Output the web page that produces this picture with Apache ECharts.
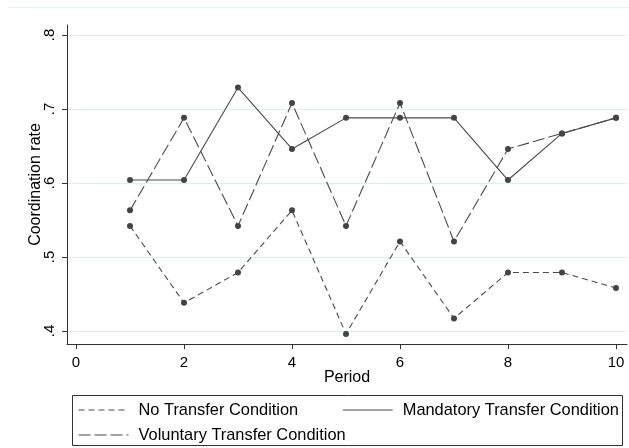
<!DOCTYPE html>
<html>
<head>
<meta charset="utf-8">
<script src="https://cdn.jsdelivr.net/npm/echarts@6/dist/echarts.min.js"></script>
<style>
  html, body { margin: 0; padding: 0; background: #fff; }
  #chart { width: 629px; height: 448px; }
</style>
</head>
<body>
<div id="chart"></div>
<script>
// Coordination rate by period, three experimental conditions
const periods = [1, 2, 3, 4, 5, 6, 7, 8, 9, 10];
const noTransfer = [0.542, 0.438, 0.479, 0.563, 0.396, 0.521, 0.417, 0.479, 0.479, 0.458];
const mandatoryTransfer = [0.604, 0.604, 0.729, 0.646, 0.688, 0.688, 0.688, 0.604, 0.667, 0.688];
const voluntaryTransfer = [0.563, 0.688, 0.542, 0.708, 0.542, 0.708, 0.521, 0.646, 0.667, 0.688];

const xTicks = [0, 2, 4, 6, 8, 10];
const yTicks = [0.4, 0.5, 0.6, 0.7, 0.8];

const seriesNames = ['No Transfer Condition', 'Mandatory Transfer Condition', 'Voluntary Transfer Condition'];

const ink = '#4a4a4a';
const font = '"Liberation Sans", Arial, sans-serif';

function pairs(values) {
  return periods.map((p, i) => [p, values[i]]);
}

function lineSeries(name, values, dash) {
  return {
    name: name,
    type: 'line',
    data: pairs(values),
    symbol: 'circle',
    symbolSize: 6,
    showSymbol: true,
    itemStyle: { color: '#444' },
    lineStyle: { color: ink, width: 1.1, type: dash },
    emphasis: { disabled: true },
    animation: false
  };
}

const legendText = { color: '#000', fontSize: 16.4, fontFamily: font, padding: [0, 0, 0, 5] };

const chart = echarts.init(document.getElementById('chart'), null, { renderer: 'canvas' });

chart.setOption({
  backgroundColor: '#fff',
  animation: false,
  textStyle: { fontFamily: font },
  grid: { left: 67, right: 2, top: 25, bottom: 104, containLabel: false },
  xAxis: {
    type: 'value',
    min: -0.167,
    max: 10.204,
    name: 'Period',
    nameLocation: 'middle',
    nameGap: 26,
    nameMoveOverlap: false,
    nameTextStyle: { color: '#000', fontSize: 16, fontFamily: font },
    axisLine: { show: true, onZero: false, lineStyle: { color: '#333', width: 1 } },
    axisTick: { show: true, length: 5, customValues: xTicks, lineStyle: { color: '#333' } },
    axisLabel: { customValues: xTicks, color: '#000', fontSize: 15, margin: 11, fontFamily: font },
    splitLine: { show: false }
  },
  yAxis: {
    type: 'value',
    min: 0.3824,
    max: 0.8135,
    name: 'Coordination rate',
    nameLocation: 'middle',
    nameGap: 23,
    nameMoveOverlap: false,
    nameTextStyle: { color: '#000', fontSize: 16, fontFamily: font },
    axisLine: { show: true, onZero: false, lineStyle: { color: '#333', width: 1 } },
    axisTick: { show: true, length: 5, customValues: yTicks, lineStyle: { color: '#333' } },
    axisLabel: {
      customValues: yTicks,
      rotate: 90,
      color: '#000',
      fontSize: 15,
      margin: 10,
      fontFamily: font,
      formatter: v => String(Math.round(v * 10) / 10).replace(/^0/, '')
    },
    splitLine: { show: true, lineStyle: { color: '#e4eded', width: 1 } }
  },
  legend: [
    {
      orient: 'horizontal',
      left: 78,
      top: 402,
      padding: 0,
      itemWidth: 50,
      itemHeight: 14,
      itemGap: 44,
      selectedMode: false,
      itemStyle: { opacity: 0 },
      textStyle: legendText,
      data: [
        { name: seriesNames[0], lineStyle: { type: [6, 4], color: ink, width: 1 } },
        { name: seriesNames[1], lineStyle: { type: 'solid', color: ink, width: 1 } }
      ]
    },
    {
      orient: 'horizontal',
      left: 78,
      top: 427,
      padding: 0,
      itemWidth: 50,
      itemHeight: 14,
      selectedMode: false,
      itemStyle: { opacity: 0 },
      textStyle: legendText,
      data: [
        { name: seriesNames[2], lineStyle: { type: [12, 4], color: ink, width: 1 } }
      ]
    }
  ],
  graphic: [
    {
      type: 'line',
      shape: { x1: 8, y1: 7.5, x2: 629, y2: 7.5 },
      style: { stroke: '#e6eeee', lineWidth: 1 },
      silent: true
    },
    {
      type: 'rect',
      shape: { x: 72.5, y: 395.5, width: 550, height: 50 },
      style: { fill: 'none', stroke: '#333', lineWidth: 1 },
      silent: true
    }
  ],
  series: [
    lineSeries(seriesNames[0], noTransfer, [6, 4]),
    lineSeries(seriesNames[1], mandatoryTransfer, 'solid'),
    lineSeries(seriesNames[2], voluntaryTransfer, [12, 4])
  ]
});
</script>
</body>
</html>
